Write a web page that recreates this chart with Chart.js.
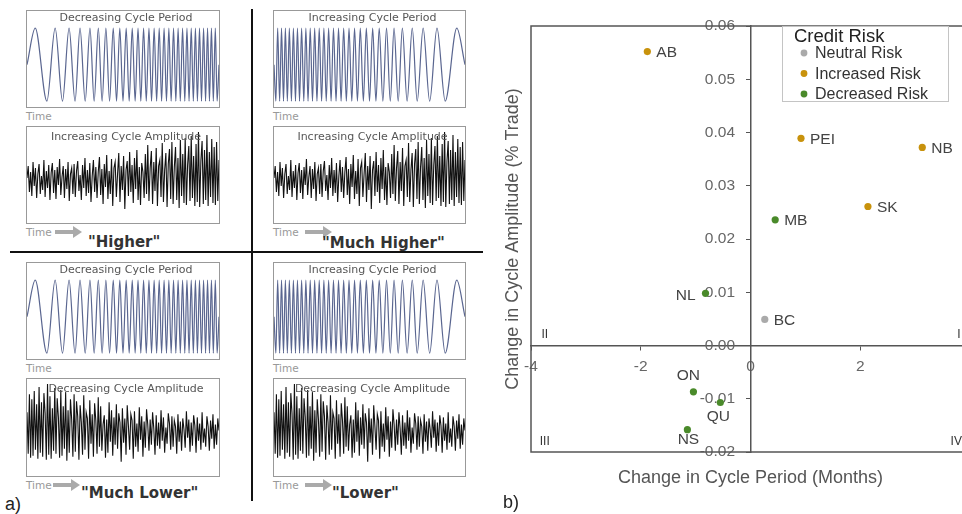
<!DOCTYPE html>
<html>
<head>
<meta charset="utf-8">
<script src="https://cdn.jsdelivr.net/npm/chart.js@4.4.1/dist/chart.umd.min.js"></script>
<style>
  html, body { margin: 0; padding: 0; width: 962px; height: 514px; overflow: hidden; background: #fff; }
  body { position: relative; font-family: "DejaVu Sans", sans-serif; }
  .box { position: absolute; border: 1px solid #999; box-sizing: border-box; }
  .box canvas { position: absolute; left: 0; top: 0; }
  .ttl { position: absolute; left: 0; right: 0; padding-left: 6px; text-align: center; font-size: 11px; color: #555; white-space: nowrap; line-height: 12px; z-index: 2; }
  .time { position: absolute; font-size: 10.5px; color: #999; line-height: 12px; }
  .arr { position: absolute; width: 19px; height: 4px; background: #aaa; }
  .arr::after { content: ''; position: absolute; right: -8px; top: -4px; border-left: 9px solid #aaa; border-top: 6px solid transparent; border-bottom: 6px solid transparent; }
  .big { position: absolute; font-weight: bold; font-size: 15px; color: #333; line-height: 18px; white-space: nowrap; }
  .tag { position: absolute; font-family: "Liberation Sans", Arial, sans-serif; font-size: 18px; color: #222; }
  .vline { position: absolute; left: 251px; top: 9px; width: 2px; height: 492px; background: #111; }
  .hline { position: absolute; left: 10px; top: 251px; width: 473px; height: 2px; background: #111; }
</style>
</head>
<body>

<div class="vline"></div>
<div class="hline"></div>

<!-- panel a) -->
<div class="box" id="p1" style="left:26px;top:10px;width:194px;height:98px"><div class="ttl" style="top:1px">Decreasing Cycle Period</div></div>
<div class="time" style="left:26px;top:110px">Time</div>
<div class="box" id="a1" style="left:26px;top:126px;width:194px;height:98px"><div class="ttl" style="top:4px">Increasing Cycle Amplitude</div></div>
<div class="time" style="left:26px;top:226px">Time</div><div class="arr" style="left:55px;top:230px"></div>
<div class="big" style="left:88px;top:233px">"Higher"</div>

<div class="box" id="p2" style="left:273px;top:10px;width:193px;height:98px"><div class="ttl" style="top:1px">Increasing Cycle Period</div></div>
<div class="time" style="left:273px;top:110px">Time</div>
<div class="box" id="a2" style="left:273px;top:126px;width:193px;height:98px"><div class="ttl" style="top:4px">Increasing Cycle Amplitude</div></div>
<div class="time" style="left:273px;top:226px">Time</div><div class="arr" style="left:305px;top:230px"></div>
<div class="big" style="left:322px;top:234px">"Much Higher"</div>

<div class="box" id="p3" style="left:26px;top:262px;width:194px;height:98px"><div class="ttl" style="top:1px">Decreasing Cycle Period</div></div>
<div class="time" style="left:26px;top:362px">Time</div>
<div class="box" id="a3" style="left:26px;top:378px;width:194px;height:99px"><div class="ttl" style="top:4px">Decreasing Cycle Amplitude</div></div>
<div class="time" style="left:26px;top:479px">Time</div><div class="arr" style="left:53px;top:483px"></div>
<div class="big" style="left:81px;top:484px">"Much Lower"</div>

<div class="box" id="p4" style="left:273px;top:262px;width:193px;height:98px"><div class="ttl" style="top:1px">Increasing Cycle Period</div></div>
<div class="time" style="left:273px;top:362px">Time</div>
<div class="box" id="a4" style="left:273px;top:378px;width:193px;height:99px"><div class="ttl" style="top:4px">Decreasing Cycle Amplitude</div></div>
<div class="time" style="left:273px;top:479px">Time</div><div class="arr" style="left:305px;top:483px"></div>
<div class="big" style="left:332px;top:484px">"Lower"</div>

<div class="tag" style="left:5px;top:494px">a)</div>

<!-- panel b) -->
<canvas id="scatter" width="520" height="514" style="position:absolute;left:495px;top:0"></canvas>
<div class="tag" style="left:503px;top:492px">b)</div>

<script>
// --- data: cycle-period sketch (pixel positions of crests and troughs along time) ---
const SPAN = 193;
const crestTimes = [8.3, 28.3, 42.3, 53.3, 63.3, 71.7, 79.3, 86.7, 93.3, 99.7, 105.8, 111.6, 117.2, 122.6, 127.8,
  132.9, 137.8, 142.6, 147.3, 151.9, 156.4, 160.8, 165.1, 169.3, 173.4, 177.5, 181.5, 185.4, 189.3];
const troughTimes = [20, 35.7, 48.3, 58.5, 67.5, 75.5, 83, 90, 96.5, 102.7, 108.7, 114.4, 119.9, 125.2, 130.3,
  135.3, 140.2, 144.9, 149.6, 154.1, 158.6, 162.9, 167.2, 171.3, 175.4, 179.5, 183.4, 187.3, 191.1];

// --- data: cycle-amplitude sketch (growing amplitude, read left to right) ---
const amplitudeTrace = [
  2, 14, -12, 8, -16, 18, -6, 12, -18, 6, 16, -14, 4, -10, 20, -17, 9, -8, 15, -20,
  7, 17, -13, 10, -19, 13, -5, 21, -15, 3, 14, -18, 11, -9, 18, -21, 6, 12, -14, 16,
  -17, 9, 19, -11, 5, -20, 15, -8, 22, -16, 10, -13, 17, -22, 4, 20, -12, 13, -18, 8,
  23, -15, 11, -24, 16, -7, 25, -19, 9, -14, 21, -26, 12, 18, -17, 6, 27, -22, 14, -10,
  24, -29, 10, 19, -16, 28, -12, 15, -23, 22, -9, 30, -20, 13, -25, 17, 8, -18, 26, -14,
  35, -21, 12, 29, -24, 18, -11, 32, -26, 14, 20, -17, 37, -22, 10, 27, -27, 16, 31, -19,
  38, -24, 13, 33, -20, 22, -28, 40, -16, 26, -23, 42, -25, 15, 34, -21, 44, -18, 24, -26,
  36, -22, 48, -27, 19, 39, -24, 30, -20, 45, -26, 28, -17, 41, -23, 33, -25, 38, -21, 20
];

// --- data: provinces ---
const provinces = ['AB', 'PEI', 'NB', 'SK', 'MB', 'NL', 'BC', 'ON', 'QU', 'NS'];
const periodChange = [-1.88, 0.92, 3.13, 2.14, 0.45, -0.82, 0.26, -1.04, -0.55, -1.15];
const amplitudeChange = [0.0552, 0.0389, 0.0372, 0.0261, 0.0236, 0.0098, 0.0049, -0.0087, -0.0107, -0.0158];
const creditRisk = ['Increased Risk', 'Increased Risk', 'Increased Risk', 'Increased Risk', 'Decreased Risk',
  'Decreased Risk', 'Neutral Risk', 'Decreased Risk', 'Decreased Risk', 'Decreased Risk'];
const riskLevels = ['Neutral Risk', 'Increased Risk', 'Decreased Risk'];
const riskColors = ['#aaaaaa', '#c8920c', '#4a8a2a'];
const xTicks = [-4, -2, 0, 2, 4];
const yTicks = [-0.02, -0.01, 0.00, 0.01, 0.02, 0.03, 0.04, 0.05, 0.06];

// where each province label sits relative to its dot
const labelSide = { AB: 'right', PEI: 'right', NB: 'right', SK: 'right', MB: 'right', BC: 'right',
  NL: 'left', ON: 'above', QU: 'below', NS: 'below' };

// --- small sketch panels ---
function makeCanvas(boxId) {
  const box = document.getElementById(boxId);
  const c = document.createElement('canvas');
  c.width = box.clientWidth; c.height = box.clientHeight;
  box.appendChild(c);
  return c;
}

const periodPoints = [{ x: 0, y: 0 }]
  .concat(crestTimes.map(t => ({ x: t, y: 1 })))
  .concat(troughTimes.map(t => ({ x: t, y: -1 })))
  .concat([{ x: SPAN, y: 0 }])
  .sort((a, b) => a.x - b.x);

function periodPanel(boxId, reversed) {
  new Chart(makeCanvas(boxId), {
    type: 'line',
    data: { datasets: [{ data: periodPoints, borderColor: '#5a6690', borderWidth: 1.2, pointRadius: 0, cubicInterpolationMode: 'monotone' }] },
    options: {
      responsive: false, animation: false, events: [],
      plugins: { legend: { display: false }, tooltip: { enabled: false } },
      scales: {
        x: { type: 'linear', display: false, min: 0, max: SPAN, reverse: reversed },
        y: { display: false, min: -1.16, max: 1.47 }
      }
    }
  });
}

function amplitudePanel(boxId, reversed) {
  new Chart(makeCanvas(boxId), {
    type: 'line',
    data: {
      labels: amplitudeTrace.map((_, i) => i),
      datasets: [{ data: amplitudeTrace, borderColor: '#111', borderWidth: 1.1, pointRadius: 0, tension: 0 }]
    },
    options: {
      responsive: false, animation: false, events: [],
      plugins: { legend: { display: false }, tooltip: { enabled: false } },
      scales: {
        x: { display: false, reverse: reversed },
        y: { display: false, min: -43, max: 53 }
      }
    }
  });
}

periodPanel('p1', false);
periodPanel('p2', true);
periodPanel('p3', false);
periodPanel('p4', true);
amplitudePanel('a1', false);
amplitudePanel('a2', false);
amplitudePanel('a3', true);
amplitudePanel('a4', true);

// --- scatter ---
const SANS = '"Liberation Sans", Arial, sans-serif';

const datasets = riskLevels.map((lvl, k) => ({
  label: lvl,
  data: provinces.map((p, i) => ({ x: periodChange[i], y: amplitudeChange[i], name: p }))
    .filter((_, i) => creditRisk[i] === lvl),
  backgroundColor: riskColors[k],
  borderWidth: 0,
  pointRadius: 3.6
}));

const decor = {
  id: 'decor',
  afterDraw(chart) {
    const { ctx, chartArea: a, scales: { x, y } } = chart;
    ctx.save();
    // frame
    ctx.strokeStyle = '#555'; ctx.lineWidth = 1.5;
    ctx.strokeRect(a.left, a.top, a.right - a.left, a.bottom - a.top);

    // quadrant numerals
    ctx.fillStyle = '#333'; ctx.font = '12px ' + SANS; ctx.textBaseline = 'middle'; ctx.textAlign = 'center';
    [['II', -3.75, 0.0021], ['I', 3.8, 0.0021], ['III', -3.75, -0.018], ['IV', 3.75, -0.018]].forEach(([t, vx, vy]) => {
      ctx.fillText(t, x.getPixelForValue(vx), y.getPixelForValue(vy));
    });

    // province labels
    ctx.font = '15.5px ' + SANS; ctx.fillStyle = '#444';
    chart.data.datasets.forEach((ds, di) => {
      chart.getDatasetMeta(di).data.forEach((pt, i) => {
        const name = ds.data[i].name;
        const side = labelSide[name];
        if (side === 'right') { ctx.textAlign = 'left'; ctx.fillText(name, pt.x + 9, pt.y + 1); }
        else if (side === 'left') { ctx.textAlign = 'right'; ctx.fillText(name, pt.x - 10, pt.y + 2); }
        else if (side === 'above') { ctx.textAlign = 'center'; ctx.fillText(name, pt.x - 5, pt.y - 16); }
        else { ctx.textAlign = 'center'; ctx.fillText(name, pt.x + (name === 'QU' ? -2 : 1), pt.y + (name === 'QU' ? 14 : 10)); }
      });
    });

    // axis titles
    ctx.fillStyle = '#555'; ctx.font = '18px ' + SANS; ctx.textAlign = 'center';
    ctx.fillText('Change in Cycle Period (Months)', x.getPixelForValue(0), 478);
    ctx.translate(18, (a.top + a.bottom) / 2);
    ctx.rotate(-Math.PI / 2);
    ctx.fillText('Change in Cycle Amplitude (% Trade)', 0, 0);
    ctx.setTransform(1, 0, 0, 1, 0, 0);

    // legend
    const lx = 287, ly = a.top, lw = 166, lh = 75;
    ctx.fillStyle = '#fff'; ctx.fillRect(lx, ly, lw, lh);
    ctx.strokeStyle = '#c4c4c4'; ctx.lineWidth = 1;
    ctx.strokeRect(lx + 0.5, ly + 0.5, lw, lh);
    ctx.textAlign = 'left'; ctx.fillStyle = '#222'; ctx.font = '18.5px ' + SANS;
    ctx.fillText('Credit Risk', lx + 12, ly + 11);
    ctx.font = '16px ' + SANS;
    chart.data.datasets.forEach((ds, k) => {
      const yy = ly + 27 + k * 20.5;
      ctx.fillStyle = ds.backgroundColor;
      ctx.beginPath(); ctx.arc(lx + 22, yy, 3.4, 0, Math.PI * 2); ctx.fill();
      ctx.fillStyle = '#333';
      ctx.fillText(ds.label, lx + 33, yy + 1);
    });
    ctx.restore();
  }
};

new Chart(document.getElementById('scatter'), {
  type: 'scatter',
  data: { datasets },
  options: {
    responsive: false, animation: false, events: [],
    layout: { padding: { left: 36, top: 26, right: 45, bottom: 62 } },
    plugins: { legend: { display: false }, tooltip: { enabled: false } },
    scales: {
      x: {
        type: 'linear', min: -4, max: 4, position: { y: 0 },
        afterBuildTicks: s => { s.ticks = xTicks.map(v => ({ value: v })); },
        ticks: { color: '#666', font: { family: SANS, size: 15.5 }, padding: 8, autoSkip: false, maxRotation: 0 },
        grid: { drawOnChartArea: false, drawTicks: true, tickLength: 4, color: '#555' },
        border: { display: true, color: '#555', width: 1.5 }
      },
      y: {
        type: 'linear', min: -0.02, max: 0.06, position: { x: 0 },
        afterBuildTicks: s => { s.ticks = yTicks.map(v => ({ value: v })); },
        // centred y axis puts labels flush on the line; trailing spaces give the gap
        ticks: { color: '#666', font: { family: SANS, size: 15.5 }, autoSkip: false, callback: v => v.toFixed(2) + '\u2002\u2002' },
        grid: { drawOnChartArea: false, drawTicks: true, tickLength: 4, color: '#555' },
        border: { display: true, color: '#555', width: 1.5 }
      }
    }
  },
  plugins: [decor]
});
</script>
</body>
</html>
